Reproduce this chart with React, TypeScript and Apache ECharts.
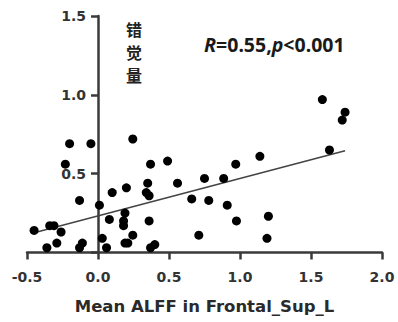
import React, { useEffect, useRef } from "react";
import * as echarts from "echarts";

const xTicks = [-0.5, 0, 0.5, 1.0, 1.5, 2.0];
const yTicks = [0, 0.5, 1.0, 1.5];

const alffX = [
  -0.2, -0.05, -0.23, -0.13, 0.01, 0.1, 0.08, -0.45, -0.34, -0.31, -0.26, -0.29, -0.36,
  -0.11, -0.13, 0.03, 0.06, 0.245, 0.37, 0.49, 0.2, 0.35, 0.34, 0.36, 0.56, 0.75, 0.66,
  0.78, 0.19, 0.18, 0.18, 0.36, 0.245, 0.19, 0.21, 0.4, 0.37, 0.71, 1.14, 0.97, 0.885,
  0.91, 0.975, 1.2, 1.19, 1.58, 1.74, 1.72, 1.63,
];
const illusionY = [
  0.69, 0.69, 0.56, 0.33, 0.3, 0.38, 0.21, 0.14, 0.17, 0.17, 0.13, 0.06, 0.03,
  0.06, 0.03, 0.09, 0.03, 0.72, 0.56, 0.58, 0.41, 0.44, 0.38, 0.36, 0.44, 0.47, 0.34,
  0.33, 0.25, 0.2, 0.17, 0.2, 0.11, 0.06, 0.06, 0.05, 0.03, 0.11, 0.61, 0.56, 0.47,
  0.3, 0.2, 0.23, 0.09, 0.97, 0.89, 0.84, 0.65,
];
const fitX = [-0.45, 1.74];
const fitY = [0.125, 0.645];

const xTitle = "Mean ALFF in Frontal_Sup_L";
const yTitleChars = ["错", "觉", "量"];
const statText = "{i|R}=0.55,{i|p}<0.001";

export default function App() {
  const ref = useRef<HTMLDivElement>(null);
  useEffect(() => {
    if (!ref.current) return;
    const chart = echarts.init(ref.current, null, { renderer: "svg" });
    const axisColor = "#3a3a3a";
    const labelFont = {
      fontFamily: "DejaVu Sans",
      fontWeight: "bold" as const,
      fontSize: 14,
      color: "#333",
    };
    const gridPos = { top: 16, right: 16, bottom: 69.5 };
    chart.setOption({
      animation: false,
      backgroundColor: "#fff",
      grid: [
        { left: 27, ...gridPos, containLabel: false },
        // grid whose left edge sits at x = 0 of the main grid, for the y axis
        { left: 98, ...gridPos, containLabel: false },
      ],
      xAxis: [
        {
          type: "value",
          gridIndex: 0,
          min: xTicks[0],
          max: xTicks[xTicks.length - 1],
          interval: 0.5,
          splitLine: { show: false },
          axisLine: { show: true, onZero: false, lineStyle: { color: axisColor, width: 2.5 } },
          axisTick: { show: true, length: 7, lineStyle: { color: axisColor, width: 2.5 } },
          axisLabel: {
            ...labelFont,
            margin: 17,
            formatter: (v: number) => v.toFixed(1),
          },
          name: xTitle,
          nameLocation: "middle",
          nameGap: 45,
          nameTextStyle: {
            fontFamily: "DejaVu Sans",
            fontWeight: "bold",
            fontSize: 16.5,
            color: "#2a2a2a",
          },
        },
        {
          type: "value",
          gridIndex: 1,
          min: 0,
          max: 1,
          show: false,
        },
      ],
      yAxis: [
        {
          type: "value",
          gridIndex: 0,
          min: yTicks[0],
          max: yTicks[yTicks.length - 1],
          interval: 0.5,
          show: false,
        },
        {
          type: "value",
          gridIndex: 1,
          min: yTicks[0],
          max: yTicks[yTicks.length - 1],
          interval: 0.5,
          splitLine: { show: false },
          axisLine: { show: true, onZero: false, lineStyle: { color: axisColor, width: 2.5 } },
          axisTick: { show: true, length: 7, lineStyle: { color: axisColor, width: 2.5 } },
          axisLabel: {
            ...labelFont,
            margin: 12,
            formatter: (v: number) => (v === 0 ? "" : v.toFixed(1)),
          },
        },
      ],
      graphic: [
        ...yTitleChars.map((ch, i) => ({
          type: "text",
          left: 126,
          top: 21 + i * 23,
          style: {
            text: ch,
            fontFamily: "Noto Sans CJK SC",
            fontWeight: "bold",
            fontSize: 16,
            fill: "#222",
          },
        })),
        {
          type: "text",
          left: 204,
          top: 34,
          style: {
            text: statText,
            fontFamily: "Noto Sans",
            fontWeight: "bold",
            fontSize: 19.5,
            fill: "#1a1a1a",
            rich: {
              i: {
                fontFamily: "Noto Sans",
                fontWeight: "bold",
                fontStyle: "italic",
                fontSize: 19.5,
                fill: "#1a1a1a",
              },
            },
          },
        },
      ],
      series: [
        {
          type: "line",
          xAxisIndex: 0,
          yAxisIndex: 0,
          data: fitX.map((x, i) => [x, fitY[i]]),
          symbol: "none",
          lineStyle: { color: "#444", width: 1.5 },
          z: 1,
        },
        {
          type: "scatter",
          xAxisIndex: 0,
          yAxisIndex: 0,
          data: alffX.map((x, i) => [x, illusionY[i]]),
          symbol: "circle",
          symbolSize: 9,
          itemStyle: { color: "#000", opacity: 1 },
          z: 2,
        },
      ],
    });
    return () => chart.dispose();
  }, []);
  return (
    <div
      ref={ref}
      style={{ position: "absolute", left: 0, top: 0, width: 398, height: 322 }}
    />
  );
}
